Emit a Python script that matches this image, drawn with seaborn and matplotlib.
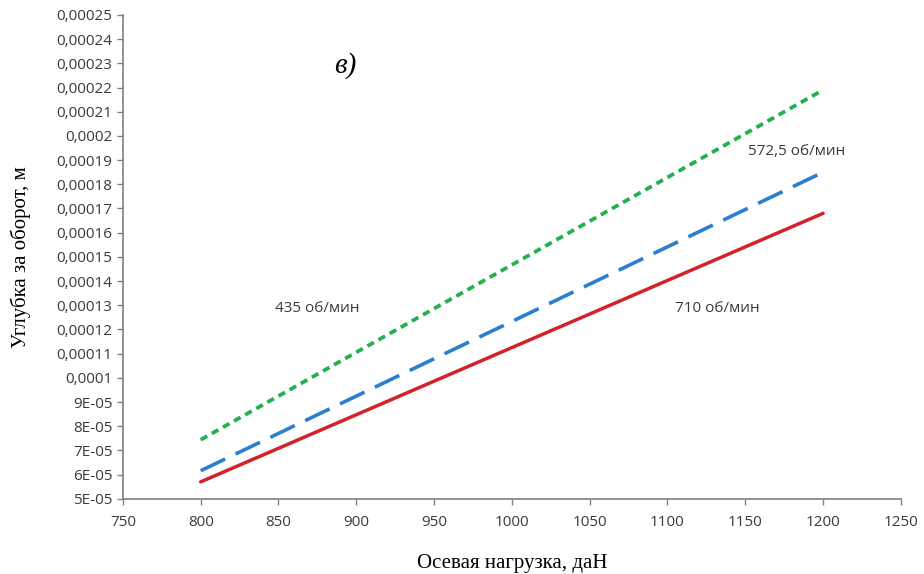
import matplotlib
matplotlib.use("Agg")
import matplotlib.pyplot as plt
import seaborn as sns
import pandas as pd

sns.set_theme(style="white")
plt.rcParams['font.family'] = ['Open Sans', 'DejaVu Sans']

load = [800, 1200]
depth_435 = [7.44e-05, 0.000219]
depth_5725 = [6.16e-05, 0.000185]
depth_710 = [5.70e-05, 0.000168]

series_names = ["435 об/мин", "572,5 об/мин", "710 об/мин"]
x_ticks = [750, 800, 850, 900, 950, 1000, 1050, 1100, 1150, 1200, 1250]
y_ticks = [5e-05, 6e-05, 7e-05, 8e-05, 9e-05, 0.0001, 0.00011, 0.00012, 0.00013, 0.00014,
           0.00015, 0.00016, 0.00017, 0.00018, 0.00019, 0.0002, 0.00021, 0.00022, 0.00023,
           0.00024, 0.00025]
y_labels = ["5E-05", "6E-05", "7E-05", "8E-05", "9E-05", "0,0001", "0,00011", "0,00012",
            "0,00013", "0,00014", "0,00015", "0,00016", "0,00017", "0,00018", "0,00019",
            "0,0002", "0,00021", "0,00022", "0,00023", "0,00024", "0,00025"]

fig = plt.figure(figsize=(9.24, 5.74), dpi=100)
ax = fig.add_axes([0.133, 0.131, 0.842, 0.843])

styles = [
    (depth_435, "#22b14c", (0, (2.0, 1.4)), 2.7),
    (depth_5725, "#2b7fcf", (0, (7.5, 3.2)), 2.6),
    (depth_710, "#d2232a", "-", 2.5),
]
for vals, col, ls, lw in styles:
    df = pd.DataFrame({"x": load, "y": vals})
    sns.lineplot(data=df, x="x", y="y", ax=ax, color=col, linestyle=ls, linewidth=lw)

ax.set_xlim(750, 1250)
ax.set_ylim(5e-05, 0.00025)
ax.set_xticks(x_ticks)
ax.set_xticklabels([str(v) for v in x_ticks])
ax.set_yticks(y_ticks)
ax.set_yticklabels(y_labels)

for s in ["top", "right"]:
    ax.spines[s].set_visible(False)
for s in ["left", "bottom"]:
    ax.spines[s].set_color("#808080")
    ax.spines[s].set_linewidth(1.2)
ax.tick_params(axis="both", which="major", direction="out", length=4, width=1,
               color="#808080", labelsize=11, labelcolor="#3a3a3a", bottom=True, left=True)
ax.tick_params(axis="x", pad=8)

ax.set_xlabel("Осевая нагрузка, даН", family="Liberation Serif", fontsize=15,
              color="black", labelpad=17)
ax.set_ylabel("Углубка за оборот, м", family="Liberation Serif", fontsize=15,
              color="black", labelpad=18)

ax.text(875, 0.0001285, series_names[0], fontsize=11, color="#3a3a3a", ha="center", va="center")
ax.text(1183, 0.0001935, series_names[1], fontsize=11, color="#3a3a3a", ha="center", va="center")
ax.text(1132, 0.0001285, series_names[2], fontsize=11, color="#3a3a3a", ha="center", va="center")
ax.text(893, 0.000229, "в)", family="Liberation Serif", style="italic", fontsize=21,
        color="black", ha="center", va="center")

fig.savefig("out.png", dpi=100)
